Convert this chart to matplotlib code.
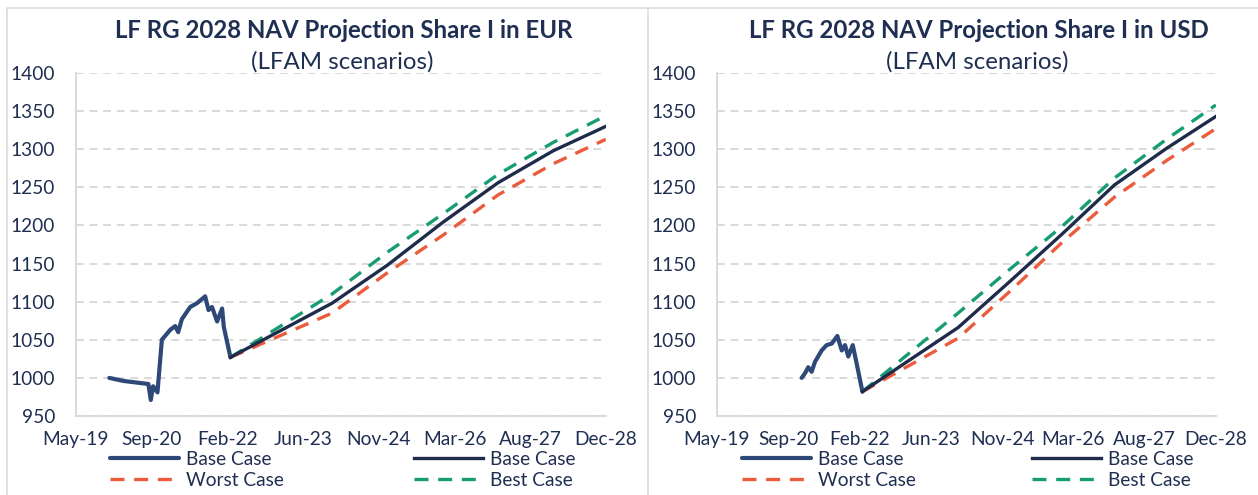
import matplotlib
matplotlib.use('Agg')
import matplotlib.pyplot as plt
import matplotlib.dates as mdates
from matplotlib.lines import Line2D
from matplotlib.legend import Legend
import pandas as pd

plt.rcParams['font.family'] = ['Lato', 'DejaVu Sans']

# ---- Data ----
eur_hist_dates = ['2019-12-21', '2020-03-23', '2020-09-04', '2020-09-20', '2020-10-05',
                  '2020-11-03', '2020-12-02', '2021-01-26', '2021-02-28', '2021-03-20',
                  '2021-04-13', '2021-06-07', '2021-07-22', '2021-09-14', '2021-10-06',
                  '2021-10-29', '2021-12-02', '2022-01-04', '2022-01-15', '2022-02-28']
eur_hist_nav = [1000, 996, 992, 971, 989, 981, 1050, 1063, 1068, 1060,
                1077, 1093, 1098, 1107, 1089, 1093, 1074, 1091, 1067, 1027]

usd_hist_dates = ['2020-12-29', '2021-01-21', '2021-02-13', '2021-03-09', '2021-04-01',
                  '2021-05-18', '2021-06-22', '2021-07-28', '2021-09-05', '2021-10-06',
                  '2021-10-29', '2021-11-21', '2021-12-22', '2022-01-14', '2022-02-28']
usd_hist_nav = [1000, 1006, 1014, 1008, 1021, 1036, 1043, 1045, 1055, 1036,
                1043, 1028, 1043, 1023, 982]

proj_dates = ['2022-02-28', '2023-12-31', '2024-12-31', '2025-12-31',
              '2026-12-31', '2027-12-31', '2028-12-12']
eur_base = [1027, 1098, 1148, 1204, 1256, 1298, 1330]
eur_best = [1027, 1110, 1165, 1215, 1267, 1309, 1344]
eur_worst = [1027, 1085, 1138, 1187, 1240, 1281, 1313]
usd_base = [982, 1066, 1127, 1189, 1253, 1301, 1343]
usd_best = [982, 1085, 1143, 1199, 1262, 1313, 1358]
usd_worst = [982, 1052, 1114, 1178, 1237, 1285, 1327]

axis_start = '2019-05-15'   # Excel date axis: 500-day major unit
tick_step = 500
n_ticks = 8
y_ticks = list(range(950, 1401, 50))

titles = ['LF RG 2028 NAV Projection Share I in EUR',
          'LF RG 2028 NAV Projection Share I in USD']
subtitle = '(LFAM scenarios)'

# ---- Style ----
c_hist = '#2E4878'
c_base = '#1E2B4A'
c_worst = '#EC5B3C'
c_best = '#179C74'
c_text = '#1F2F52'
c_grid = '#D9D9D9'
dash = (0, (4.2, 2.9))
fs = 13.8
fs_title = 17.3

W, H = 1258, 495
fig = plt.figure(figsize=(W / 100, H / 100), dpi=100)


def px_box(l, r, top, bottom):
    return [l / W, 1 - bottom / H, (r - l) / W, (bottom - top) / H]


def px(x, y):
    return x / W, 1 - y / H


# panel frames
for x0, x1 in [(7, 648), (648, 1270)]:
    fig.add_artist(Line2D([x0 / W, x0 / W, x1 / W], [0, 1 - 8 / H, 1 - 8 / H],
                          color=c_grid, lw=1.1, transform=fig.transFigure))

start = pd.Timestamp(axis_start)
ticks = [start + pd.Timedelta(days=tick_step * i) for i in range(n_ticks)]


def draw(ax, hist_d, hist_v, base, worst, best, title, tcx, leg_x):
    hd = pd.to_datetime(hist_d)
    pd_ = pd.to_datetime(proj_dates)
    h1, = ax.plot(hd, hist_v, color=c_hist, lw=3.0, solid_joinstyle='round',
                  solid_capstyle='round', label='Base Case')
    h3, = ax.plot(pd_, base, color=c_base, lw=2.4, label='Base Case', zorder=4)
    h2, = ax.plot(pd_, worst, color=c_worst, lw=2.4, ls=dash, label='Worst Case', zorder=3)
    h4, = ax.plot(pd_, best, color=c_best, lw=2.4, ls=dash, label='Best Case', zorder=3)

    ax.set_xlim(ticks[0], ticks[-1])
    ax.set_ylim(950, 1400)
    ax.set_xticks(ticks)
    ax.xaxis.set_major_formatter(mdates.DateFormatter('%b-%y'))
    ax.set_yticks(y_ticks)
    ax.tick_params(axis='both', length=0, labelsize=fs, labelcolor=c_text)
    ax.tick_params(axis='y', pad=15)
    ax.tick_params(axis='x', pad=11)
    for s in ['top', 'right']:
        ax.spines[s].set_visible(False)
    for s in ['left', 'bottom']:
        ax.spines[s].set_color(c_grid)
        ax.spines[s].set_linewidth(1.4)
    ax.yaxis.grid(True, color=c_grid, lw=1.4, ls=(0, (4, 3)))
    ax.set_axisbelow(True)

    fig.text(*px(tcx, 30), title, ha='center', va='center', fontsize=fs_title,
             fontweight='bold', color=c_text)
    fig.text(*px(tcx - 2, 62), subtitle, ha='center', va='center', fontsize=fs_title,
             color=c_text)

    for handles, lx in [([h1, h2], leg_x[0]), ([h3, h4], leg_x[1])]:
        leg = Legend(ax, handles, [h.get_label() for h in handles],
                     loc='upper left', bbox_to_anchor=px(lx, 451),
                     bbox_transform=fig.transFigure, frameon=False, fontsize=fs,
                     borderpad=0, borderaxespad=0, handlelength=3.6,
                     handletextpad=0.35, labelspacing=0.2, labelcolor=c_text)
        ax.add_artist(leg)


ax_eur = fig.add_axes(px_box(76, 606, 73, 416))
ax_usd = fig.add_axes(px_box(717, 1216, 73, 416))
draw(ax_eur, eur_hist_dates, eur_hist_nav, eur_base, eur_worst, eur_best,
     titles[0], 344, (110, 414))
draw(ax_usd, usd_hist_dates, usd_hist_nav, usd_base, usd_worst, usd_best,
     titles[1], 979, (742, 1032))

fig.savefig('out.png', dpi=100)
